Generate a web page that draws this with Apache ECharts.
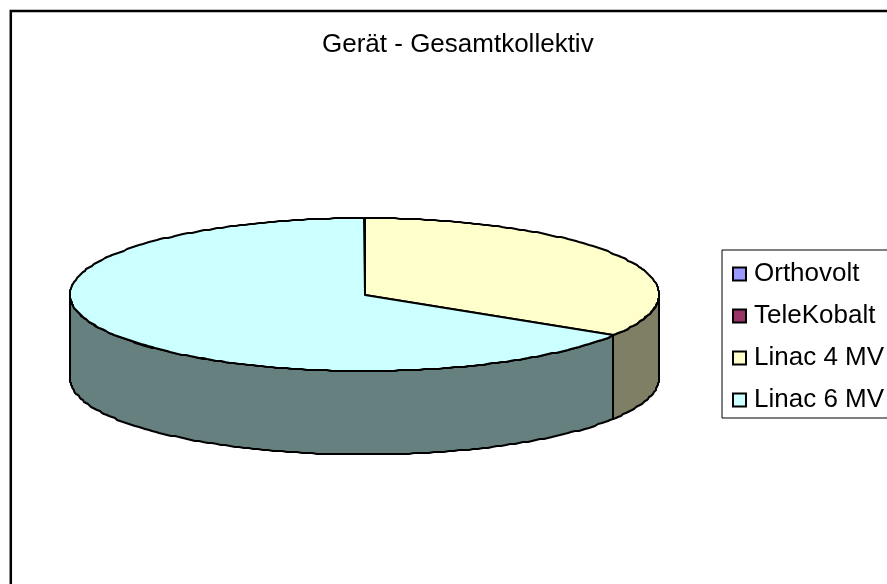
<!DOCTYPE html>
<html><head><meta charset="utf-8">
<style>html,body{margin:0;padding:0;background:#fff}#c{width:887px;height:584px}</style>
<script src="https://cdn.jsdelivr.net/npm/echarts@6/dist/echarts.min.js"></script>
</head><body><div id="c"></div>
<script>
var titleText = 'Gerät - Gesamtkollektiv';
var categories = ['Orthovolt', 'TeleKobalt', 'Linac 4 MV', 'Linac 6 MV'];
var values = [0, 0, 34, 66];
var topColors = ['#9999FF', '#993366', '#FFFFCC', '#CCFFFF'];
var wallColors = ['#4C4C7F', '#4C1933', '#7F7F66', '#667F7F'];

var cx = 364.5, cy = 294.5, rx = 294.5, ry = 76.5, depth = 83.5;
var total = values.reduce(function (a, b) { return a + b; }, 0);

function pt(deg, dy) {
  var r = deg * Math.PI / 180;
  return [Math.round(cx + rx * Math.sin(r)), Math.round(cy - ry * Math.cos(r) + dy)];
}
function arc(a, b, dy) {
  var out = [], n = Math.max(1, Math.ceil(Math.abs(b - a)));
  for (var i = 0; i <= n; i++) out.push(pt(a + (b - a) * i / n, dy));
  return out;
}
function makeRender(idx) {
  return function (params, api) {
    var v = api.value(0);
    if (!v) return { type: 'group', children: [] };
    var before = values.slice(0, idx).reduce(function (a, b) { return a + b; }, 0);
    var a = before / total * 360, b = (before + v) / total * 360;
    var kids = [];
    var wa = Math.max(a, 90), wb = Math.min(b, 270);
    if (wb > wa) {
      kids.push({
        type: 'polygon',
        shape: { points: arc(wa, wb, 0).concat(arc(wb, wa, depth)) },
        style: { fill: wallColors[idx], stroke: '#000', lineWidth: 2, lineJoin: 'round' }
      });
    }
    kids.push({
      type: 'polygon',
      shape: { points: [[Math.round(cx), Math.round(cy)]].concat(arc(a, b, 0)) },
      style: { fill: topColors[idx], stroke: '#000', lineWidth: 2, lineJoin: 'round' }
    });
    return { type: 'group', children: kids };
  };
}

var chart = echarts.init(document.getElementById('c'), null, { renderer: 'canvas' });
chart.setOption({
  animation: false,
  backgroundColor: '#fff',
  title: {
    text: titleText, left: 317, top: 27,
    textStyle: { fontFamily: 'Liberation Sans', fontSize: 26, fontWeight: 'normal', color: '#000' }
  },
  legend: {
    orient: 'vertical', left: 722, top: 250, data: categories,
    padding: [11, 60, 5, 10], itemGap: 16, itemWidth: 13, itemHeight: 13,
    borderColor: '#000', borderWidth: 1, backgroundColor: '#fff',
    icon: 'rect',
    itemStyle: { borderColor: '#000', borderWidth: 2 },
    selectedMode: false,
    textStyle: { fontFamily: 'Liberation Sans', fontSize: 26, color: '#000', padding: [0, 0, 4, 3] }
  },
  graphic: [{
    type: 'rect', silent: true, z: 10,
    shape: { x: 10.8, y: 11, width: 1000, height: 1000 },
    style: { fill: 'none', stroke: '#000', lineWidth: 2.5 }
  }],
  series: categories.map(function (name, i) {
    return {
      type: 'custom', name: name, coordinateSystem: 'none',
      itemStyle: { color: topColors[i] },
      renderItem: makeRender(i),
      data: [[values[i]]]
    };
  })
});
</script></body></html>
